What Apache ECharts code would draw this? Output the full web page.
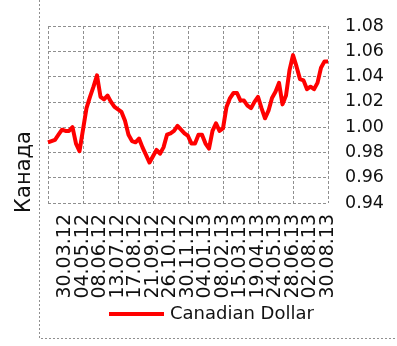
<!DOCTYPE html>
<html>
<head>
<meta charset="utf-8">
<script src="https://cdn.jsdelivr.net/npm/echarts@6/dist/echarts.min.js"></script>
<style>
  html, body { margin: 0; padding: 0; background: #ffffff; }
  #chart { width: 397px; height: 346px; }
</style>
</head>
<body>
<div id="chart"></div>
<script>
// Weekly CAD exchange rate, one value per week step on the category axis
const rateValues = [
  0.988, 0.989, 0.990, 0.994, 0.998, 0.997, 0.997, 1.000, 0.987, 0.981,
  0.998, 1.015, 1.024, 1.032, 1.041, 1.024, 1.022, 1.025, 1.020, 1.016,
  1.014, 1.012, 1.005, 0.994, 0.989, 0.988, 0.991, 0.984, 0.978, 0.972,
  0.977, 0.982, 0.979, 0.984, 0.994, 0.995, 0.997, 1.001, 0.998, 0.995,
  0.993, 0.987, 0.987, 0.994, 0.994, 0.987, 0.983, 0.997, 1.003, 0.997,
  0.999, 1.016, 1.023, 1.027, 1.027, 1.021, 1.021, 1.017, 1.015, 1.020,
  1.024, 1.015, 1.007, 1.013, 1.023, 1.028, 1.035, 1.018, 1.025, 1.045,
  1.057, 1.048, 1.038, 1.037, 1.030, 1.032, 1.030, 1.035, 1.047, 1.052,
  1.052
];

// Dates shown under the axis, one every fifth step
const tickLabels = [
  '30.03.12', '04.05.12', '08.06.12', '13.07.12', '17.08.12', '21.09.12',
  '26.10.12', '30.11.12', '04.01.13', '08.02.13', '15.03.13', '19.04.13',
  '24.05.13', '28.06.13', '02.08.13', '30.08.13'
];

const seriesName = 'Canadian Dollar';
const axisTitle = 'Канада';

const labelStep = 5;
const lastIndex = rateValues.length - 1;
const categories = rateValues.map((_, i) =>
  (i > 0 && i % labelStep === 0) ? tickLabels[i / labelStep - 1] : '');

// Blank neighbours at both ends absorb the min/max label overlap check,
// so every dated label stays visible.
const labelShown = (i) => i % labelStep === 0 || i === 1 || i === lastIndex - 1;

const FONT = '"DejaVu Sans", sans-serif';
const GRID_COLOR = '#8f8f8f';

const chart = echarts.init(document.getElementById('chart'), null, { renderer: 'canvas' });

chart.setOption({
  animation: false,
  backgroundColor: '#ffffff',
  grid: { left: 48, right: 69, top: 26, bottom: 143, containLabel: false },
  xAxis: {
    type: 'category',
    data: categories,
    boundaryGap: false,
    axisLine: { show: false },
    axisTick: { show: false },
    axisLabel: {
      interval: labelShown,
      showMinLabel: true,
      showMaxLabel: true,
      hideOverlap: false,
      rotate: 90,
      margin: 11,
      fontFamily: FONT,
      fontSize: 19,
      color: '#111111'
    },
    splitLine: {
      show: true,
      interval: (i) => i % (labelStep * 2) === 0,
      lineStyle: { color: GRID_COLOR, width: 1, type: [3, 2] }
    }
  },
  yAxis: {
    type: 'value',
    position: 'right',
    min: 0.94,
    max: 1.08,
    interval: 0.02,
    axisLine: { show: false },
    axisTick: { show: false },
    axisLabel: {
      formatter: (v) => v.toFixed(2),
      margin: 17,
      padding: [8, 0, 0, 0],
      fontFamily: FONT,
      fontSize: 17.5,
      color: '#111111'
    },
    splitLine: { lineStyle: { color: GRID_COLOR, width: 1, type: [3, 2] } }
  },
  legend: {
    data: [seriesName],
    left: 104,
    top: 300,
    icon: 'rect',
    itemWidth: 55,
    itemHeight: 4,
    itemGap: 6,
    textStyle: { fontFamily: FONT, fontSize: 18, color: '#111111', padding: [0, 0, 0, 1] }
  },
  graphic: [
    {
      type: 'rect',
      silent: true,
      shape: { x: 39.5, y: -5, width: 400, height: 343.5 },
      style: { fill: 'none', stroke: GRID_COLOR, lineWidth: 1, lineDash: [2, 2] }
    },
    {
      type: 'text',
      silent: true,
      x: 25,
      y: 172,
      rotation: Math.PI / 2,
      style: {
        text: axisTitle,
        fontFamily: FONT,
        fontSize: 21,
        fill: '#111111',
        align: 'center',
        verticalAlign: 'middle'
      }
    }
  ],
  series: [{
    name: seriesName,
    type: 'line',
    data: rateValues,
    showSymbol: false,
    symbol: 'none',
    color: '#ff0000',
    lineStyle: { color: '#ff0000', width: 4, join: 'round' }
  }]
});
</script>
</body>
</html>
